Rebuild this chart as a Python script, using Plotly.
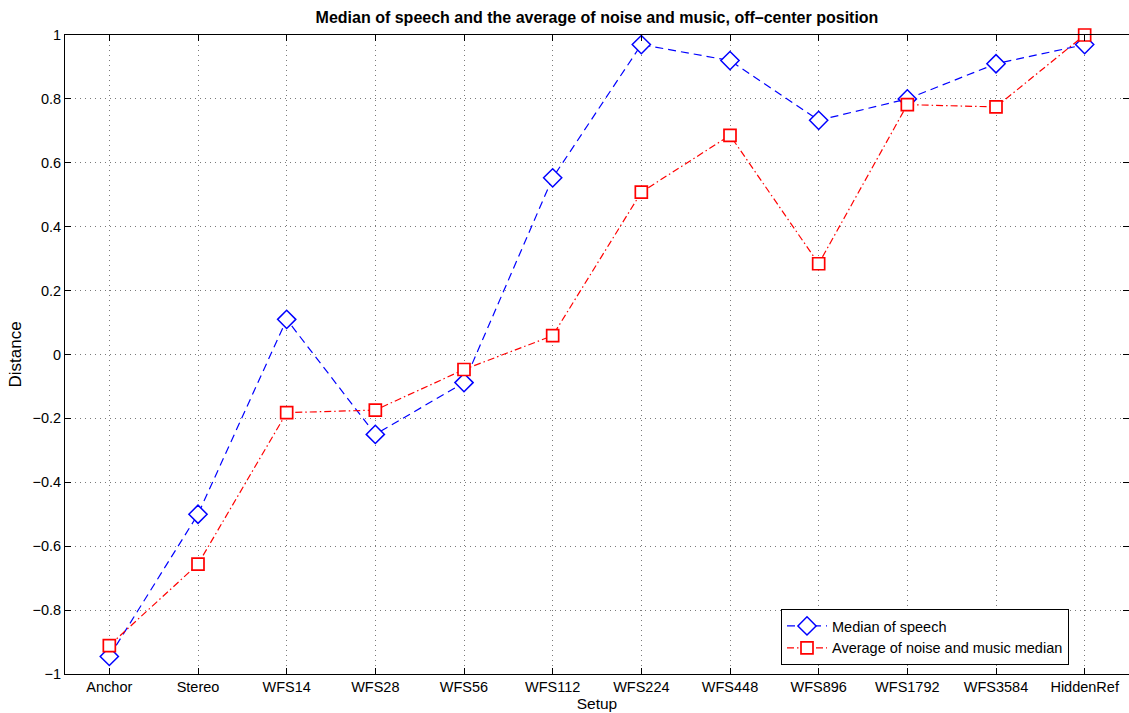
import plotly.graph_objects as go

setups = ["Anchor", "Stereo", "WFS14", "WFS28", "WFS56", "WFS112", "WFS224",
          "WFS448", "WFS896", "WFS1792", "WFS3584", "HiddenRef"]
speech_median = [-0.945, -0.50, 0.11, -0.25, -0.088, 0.553, 0.97,
                 0.92, 0.733, 0.80, 0.91, 0.97]
noise_music_avg = [-0.911, -0.656, -0.182, -0.174, -0.047, 0.059, 0.508,
                   0.686, 0.284, 0.782, 0.775, 1.0]
y_ticks = [-1, -0.8, -0.6, -0.4, -0.2, 0, 0.2, 0.4, 0.6, 0.8, 1]
y_tick_text = ["\u22121", "\u22120.8", "\u22120.6", "\u22120.4", "\u22120.2",
               "0", "0.2", "0.4", "0.6", "0.8", "1"]

idx = list(range(len(setups)))
FONT = "Liberation Sans, Arial, Helvetica, sans-serif"

fig = go.Figure()
fig.add_trace(go.Scatter(
    x=idx, y=speech_median, name="Median of speech",
    mode="lines+markers",
    line=dict(color="#0000ff", width=1.2, dash="8px,5px"),
    marker=dict(symbol="diamond", size=14, color="white",
                line=dict(width=1.5, color="#0000ff")),
    cliponaxis=False,
))
fig.add_trace(go.Scatter(
    x=idx, y=noise_music_avg, name="Average of noise and music median",
    mode="lines+markers",
    line=dict(color="#ff0000", width=1.2, dash="7px,3px,1.5px,3px"),
    marker=dict(symbol="square", size=12, color="white",
                line=dict(width=1.7, color="#ff0000")),
    cliponaxis=False,
))

tick_font = dict(family=FONT, size=14.5, color="black")

fig.update_layout(
    width=1129, height=713,
    margin=dict(l=65, r=0, t=35, b=39),
    paper_bgcolor="white", plot_bgcolor="white",
    font=tick_font,
    title=dict(
        text="<b>Median of speech and the average of noise and music, off\u2013center position</b>",
        x=(65 + 1129) / 2 / 1129, xanchor="center", y=1 - 17 / 713, yanchor="middle",
        font=dict(family=FONT, size=16, color="black"),
    ),
    legend=dict(
        x=(781 - 65) / 1064, y=(674 - 609) / 639, xanchor="left", yanchor="top",
        bgcolor="white", bordercolor="black", borderwidth=1,
        font=tick_font, tracegroupgap=0, itemwidth=40,
    ),
    showlegend=True,
)

fig.update_xaxes(
    range=[-0.5, 11.5], tickmode="array", tickvals=idx, ticktext=setups,
    showline=True, linecolor="black", linewidth=1, mirror="ticks",
    ticks="inside", ticklen=6, tickcolor="black",
    showgrid=True, gridcolor="#7a7a7a", griddash="1px,4px", gridwidth=1,
    zeroline=False,
    title=dict(text="Setup", standoff=2, font=dict(family=FONT, size=15.5, color="black")),
    tickfont=tick_font,
)
fig.update_yaxes(
    range=[-1, 1], tickmode="array", tickvals=y_ticks, ticktext=y_tick_text,
    showline=True, linecolor="black", linewidth=1, mirror="ticks",
    ticks="inside", ticklen=6, tickcolor="black",
    showgrid=True, gridcolor="#7a7a7a", griddash="1px,4px", gridwidth=1,
    zeroline=False,
    title=dict(text="Distance", standoff=6, font=dict(family=FONT, size=17, color="black")),
    tickfont=tick_font,
)

fig.write_html("out.html")
